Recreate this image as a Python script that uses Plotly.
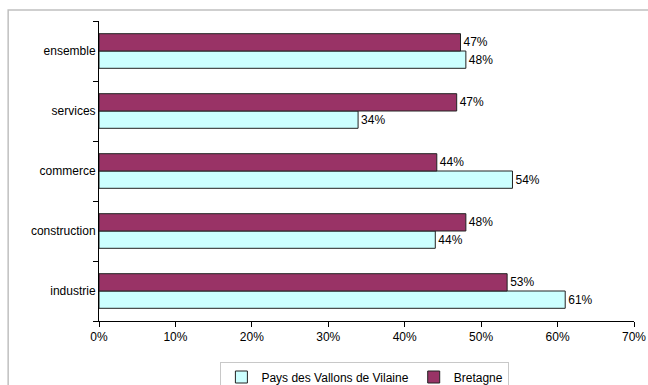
import plotly.graph_objects as go

categories = ["industrie", "construction", "commerce", "services", "ensemble"]
pays_values = [61.0, 44.0, 54.1, 33.9, 48.0]
bretagne_values = [53.4, 48.0, 44.2, 46.8, 47.3]
series_names = ["Pays des Vallons de Vilaine", "Bretagne"]
x_ticks = [0, 10, 20, 30, 40, 50, 60, 70]
x_tick_labels = ["0%", "10%", "20%", "30%", "40%", "50%", "60%", "70%"]

FONT = "Arial, Liberation Sans, sans-serif"

fig = go.Figure()
fig.add_trace(go.Bar(
    y=categories, x=pays_values, orientation="h", name=series_names[0],
    marker=dict(color="#CCFFFF", line=dict(color="#222222", width=1)),
    texttemplate="%{x:.0f}%", textposition="outside", cliponaxis=False,
    textfont=dict(family=FONT, size=12, color="#000000"),
))
fig.add_trace(go.Bar(
    y=categories, x=bretagne_values, orientation="h", name=series_names[1],
    marker=dict(color="#993366", line=dict(color="#222222", width=1)),
    texttemplate="%{x:.0f}%", textposition="outside", cliponaxis=False,
    textfont=dict(family=FONT, size=12, color="#000000"),
))

fig.update_layout(
    width=648, height=385,
    margin=dict(l=99, r=14, t=21, b=64, autoexpand=False),
    paper_bgcolor="white", plot_bgcolor="white",
    barmode="group", bargap=0.423, bargroupgap=0,
    font=dict(family=FONT, size=12, color="#000000"),
    showlegend=True,
    legend=dict(
        orientation="h", x=0.497, xanchor="center", y=-0.135, yanchor="top",
        bordercolor="#C8C8C8", borderwidth=1, bgcolor="white",
        font=dict(family=FONT, size=12, color="#000000"),
        itemwidth=30, tracegroupgap=0,
    ),
    shapes=[dict(
        type="rect", xref="paper", yref="paper",
        x0=-0.1698, x1=1.1, y0=-0.5, y1=1.0367,
        line=dict(color="#C0C0C0", width=1.5), fillcolor="rgba(0,0,0,0)",
        layer="below",
    )],
)
fig.update_xaxes(
    range=[0, 70], tickvals=x_ticks, ticktext=x_tick_labels,
    showgrid=False, zeroline=False, showline=True, linecolor="#000000", linewidth=1,
    ticks="outside", ticklen=5, tickcolor="#000000", automargin=False,
    tickfont=dict(family=FONT, size=12, color="#000000"),
)
fig.update_yaxes(
    categoryorder="array", categoryarray=categories,
    showgrid=False, zeroline=False, showline=True, linecolor="#000000", linewidth=1,
    ticks="outside", ticklen=5, tickcolor="#000000", tickson="boundaries",
    automargin=False,
    tickfont=dict(family=FONT, size=12, color="#000000"),
)

fig.write_html(
    "out.html",
    config={"displayModeBar": False},
    post_script="document.body.style.margin='0';document.body.style.overflow='hidden';",
)
